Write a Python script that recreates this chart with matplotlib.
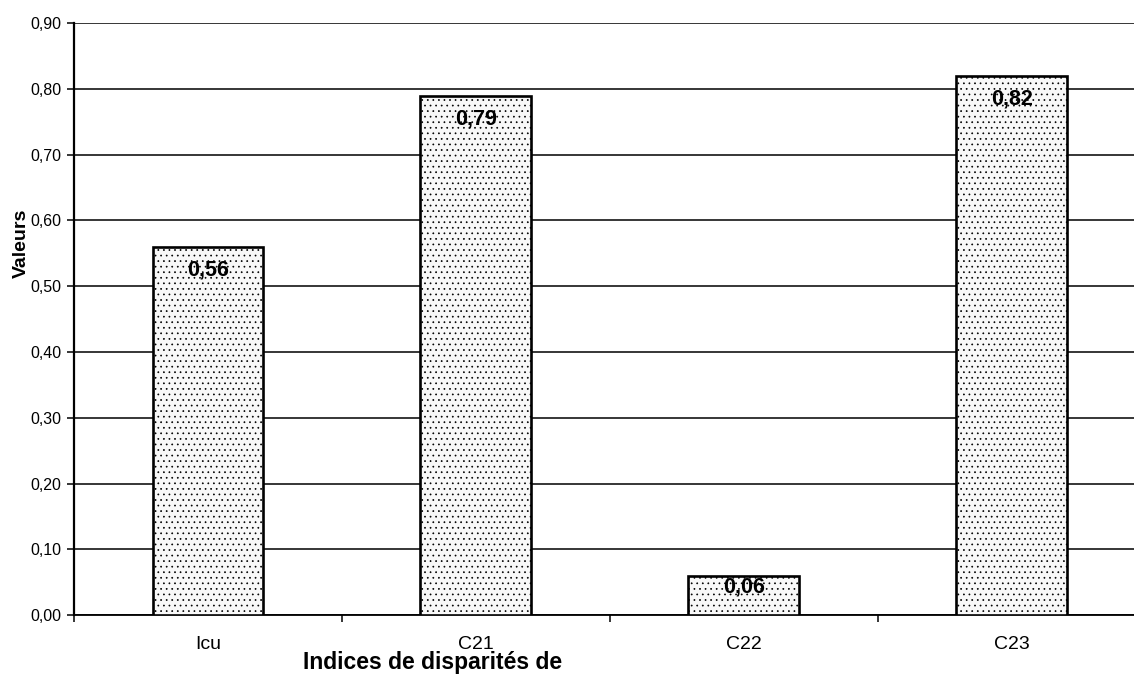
import numpy as np
import matplotlib
matplotlib.use("Agg")
import matplotlib.pyplot as plt
from matplotlib.ticker import FuncFormatter, MultipleLocator

categories = ["Icu", "C21", "C22", "C23"]
values = [0.56, 0.79, 0.06, 0.82]
value_labels = ["0,56", "0,79", "0,06", "0,82"]

plt.rcParams["font.family"] = ["Liberation Sans", "DejaVu Sans"]
plt.rcParams["hatch.color"] = "#c4c4c4"
plt.rcParams["hatch.linewidth"] = 0.5

fig = plt.figure(figsize=(11.34, 6.81), dpi=100)
ax = fig.add_axes([0.0653, 0.0969, 0.945, 0.869])

x = np.arange(len(categories))
bars = ax.bar(x, values, width=0.414, color="#f8f8f8", edgecolor="black",
              linewidth=1.9, hatch="...", zorder=3)

# value labels sit just under the top of each bar
for xi, v, lab in zip(x, values, value_labels):
    y = max(v - 0.035, v * 0.71)
    ax.text(xi, y, lab, ha="center", va="center", fontsize=15.5,
            fontweight="bold", zorder=4)

ax.set_xlim(-0.5, len(categories) - 0.5)
ax.set_ylim(0, 0.9)
ax.yaxis.set_major_locator(MultipleLocator(0.1))
ax.yaxis.set_major_formatter(FuncFormatter(lambda v, p: f"{v:.2f}".replace(".", ",")))
ax.grid(axis="y", color="black", linewidth=1.1, zorder=1)

ax.set_xticks(x)
ax.set_xticklabels(categories, fontsize=14)
ax.tick_params(axis="x", which="major", length=0, pad=15)
ax.set_xticks(np.arange(-0.5, len(categories), 1.0), minor=True)
ax.tick_params(axis="x", which="minor", length=5, width=1.1, direction="out")
ax.tick_params(axis="y", labelsize=11.5, length=5, width=1.1, pad=4)

for s in ["top", "right"]:
    ax.spines[s].set_visible(False)
ax.spines["left"].set_linewidth(1.6)
ax.spines["bottom"].set_linewidth(1.3)

fig.text(21 / 1134, 1 - 243 / 681, "Valeurs", rotation=90, ha="center",
         va="center", fontsize=14, fontweight="bold")
fig.text(433 / 1134, 1 - 669 / 681, "Indices de disparités de", ha="center",
         va="baseline", fontsize=16.5, fontweight="bold")

fig.savefig("out.png", dpi=100)
